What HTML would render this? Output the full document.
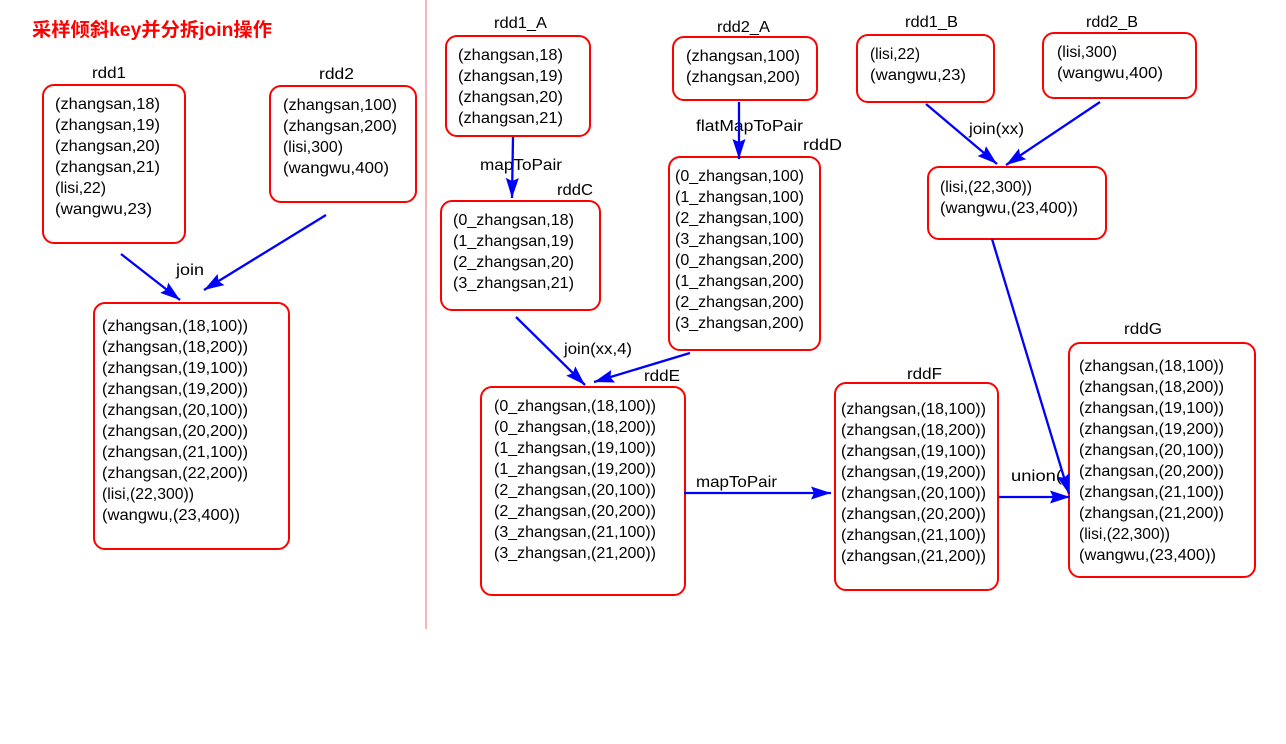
<!DOCTYPE html>
<html><head><meta charset="utf-8"><style>
html,body{margin:0;padding:0;background:#fff;width:1286px;height:744px;overflow:hidden}
svg{display:block}
text{font-family:"Liberation Sans","Noto Sans CJK SC",sans-serif;font-size:16px;fill:#000}
rect{fill:#fff;stroke:#f00;stroke-width:2}
line.a{stroke:#00f;stroke-width:2.3;marker-end:url(#h)}
</style></head><body>
<svg width="1286" height="744" viewBox="0 0 1286 744" xmlns="http://www.w3.org/2000/svg">
<defs><marker id="h" markerUnits="userSpaceOnUse" markerWidth="24" markerHeight="16" refX="20" refY="8" orient="auto"><path d="M0,1.5 L20,8 L0,14.5 L3,8 Z" fill="#00f"/></marker></defs>
<line x1="426" y1="0" x2="426" y2="629" stroke="#f26a6a" stroke-width="1"/>
<text x="32" y="36" style="font-size:19px;font-weight:bold;fill:#f00" textLength="240" lengthAdjust="spacingAndGlyphs">采样倾斜key并分拆join操作</text>

<rect x="43" y="85" width="142" height="158" rx="11"/>
<rect x="270" y="86" width="146" height="116" rx="11"/>
<rect x="94" y="303" width="195" height="246" rx="11"/>
<rect x="446" y="36" width="144" height="100" rx="11"/>
<rect x="441" y="201" width="159" height="109" rx="11"/>
<rect x="673" y="37" width="144" height="63" rx="11"/>
<rect x="669" y="157" width="151" height="193" rx="11"/>
<rect x="481" y="387" width="204" height="208" rx="11"/>
<rect x="835" y="383" width="163" height="207" rx="11"/>
<rect x="1069" y="343" width="186" height="234" rx="11"/>
<rect x="857" y="35" width="137" height="67" rx="11"/>
<rect x="1043" y="33" width="153" height="65" rx="11"/>
<rect x="928" y="167" width="178" height="72" rx="11"/>

<g>
<text x="92" y="78" textLength="34" lengthAdjust="spacingAndGlyphs">rdd1</text>
<text x="319" y="79" textLength="35" lengthAdjust="spacingAndGlyphs">rdd2</text>
<text x="176" y="275" textLength="28" lengthAdjust="spacingAndGlyphs">join</text>
<text x="494" y="28" textLength="53" lengthAdjust="spacingAndGlyphs">rdd1_A</text>
<text x="717" y="32" textLength="53" lengthAdjust="spacingAndGlyphs">rdd2_A</text>
<text x="905" y="27" textLength="53" lengthAdjust="spacingAndGlyphs">rdd1_B</text>
<text x="1086" y="27" textLength="52" lengthAdjust="spacingAndGlyphs">rdd2_B</text>
<text x="969" y="134" textLength="55" lengthAdjust="spacingAndGlyphs">join(xx)</text>
<text x="480" y="170" textLength="82" lengthAdjust="spacingAndGlyphs">mapToPair</text>
<text x="557" y="195" textLength="36" lengthAdjust="spacingAndGlyphs">rddC</text>
<text x="696" y="131" textLength="107" lengthAdjust="spacingAndGlyphs">flatMapToPair</text>
<text x="803" y="150" textLength="39" lengthAdjust="spacingAndGlyphs">rddD</text>
<text x="564" y="354" textLength="68" lengthAdjust="spacingAndGlyphs">join(xx,4)</text>
<text x="644" y="381" textLength="36" lengthAdjust="spacingAndGlyphs">rddE</text>
<text x="696" y="487" textLength="81" lengthAdjust="spacingAndGlyphs">mapToPair</text>
<text x="907" y="379" textLength="35" lengthAdjust="spacingAndGlyphs">rddF</text>
<text x="1011" y="481" textLength="51" lengthAdjust="spacingAndGlyphs">union(</text>
<text x="1124" y="334" textLength="38" lengthAdjust="spacingAndGlyphs">rddG</text>

<text x="55" y="109" textLength="105" lengthAdjust="spacingAndGlyphs">(zhangsan,18)</text>
<text x="55" y="130" textLength="105" lengthAdjust="spacingAndGlyphs">(zhangsan,19)</text>
<text x="55" y="151" textLength="105" lengthAdjust="spacingAndGlyphs">(zhangsan,20)</text>
<text x="55" y="172" textLength="105" lengthAdjust="spacingAndGlyphs">(zhangsan,21)</text>
<text x="55" y="193" textLength="51" lengthAdjust="spacingAndGlyphs">(lisi,22)</text>
<text x="55" y="214" textLength="97" lengthAdjust="spacingAndGlyphs">(wangwu,23)</text>

<text x="283" y="110" textLength="114" lengthAdjust="spacingAndGlyphs">(zhangsan,100)</text>
<text x="283" y="131" textLength="114" lengthAdjust="spacingAndGlyphs">(zhangsan,200)</text>
<text x="283" y="152" textLength="60" lengthAdjust="spacingAndGlyphs">(lisi,300)</text>
<text x="283" y="173" textLength="106" lengthAdjust="spacingAndGlyphs">(wangwu,400)</text>

<text x="102" y="331" textLength="146" lengthAdjust="spacingAndGlyphs">(zhangsan,(18,100))</text>
<text x="102" y="352" textLength="146" lengthAdjust="spacingAndGlyphs">(zhangsan,(18,200))</text>
<text x="102" y="373" textLength="146" lengthAdjust="spacingAndGlyphs">(zhangsan,(19,100))</text>
<text x="102" y="394" textLength="146" lengthAdjust="spacingAndGlyphs">(zhangsan,(19,200))</text>
<text x="102" y="415" textLength="146" lengthAdjust="spacingAndGlyphs">(zhangsan,(20,100))</text>
<text x="102" y="436" textLength="146" lengthAdjust="spacingAndGlyphs">(zhangsan,(20,200))</text>
<text x="102" y="457" textLength="146" lengthAdjust="spacingAndGlyphs">(zhangsan,(21,100))</text>
<text x="102" y="478" textLength="146" lengthAdjust="spacingAndGlyphs">(zhangsan,(22,200))</text>
<text x="102" y="499" textLength="92" lengthAdjust="spacingAndGlyphs">(lisi,(22,300))</text>
<text x="102" y="520" textLength="138" lengthAdjust="spacingAndGlyphs">(wangwu,(23,400))</text>

<text x="458" y="60" textLength="105" lengthAdjust="spacingAndGlyphs">(zhangsan,18)</text>
<text x="458" y="81" textLength="105" lengthAdjust="spacingAndGlyphs">(zhangsan,19)</text>
<text x="458" y="102" textLength="105" lengthAdjust="spacingAndGlyphs">(zhangsan,20)</text>
<text x="458" y="123" textLength="105" lengthAdjust="spacingAndGlyphs">(zhangsan,21)</text>

<text x="453" y="225" textLength="121" lengthAdjust="spacingAndGlyphs">(0_zhangsan,18)</text>
<text x="453" y="246" textLength="121" lengthAdjust="spacingAndGlyphs">(1_zhangsan,19)</text>
<text x="453" y="267" textLength="121" lengthAdjust="spacingAndGlyphs">(2_zhangsan,20)</text>
<text x="453" y="288" textLength="121" lengthAdjust="spacingAndGlyphs">(3_zhangsan,21)</text>

<text x="686" y="61" textLength="114" lengthAdjust="spacingAndGlyphs">(zhangsan,100)</text>
<text x="686" y="82" textLength="114" lengthAdjust="spacingAndGlyphs">(zhangsan,200)</text>

<text x="675" y="181" textLength="129" lengthAdjust="spacingAndGlyphs">(0_zhangsan,100)</text>
<text x="675" y="202" textLength="129" lengthAdjust="spacingAndGlyphs">(1_zhangsan,100)</text>
<text x="675" y="223" textLength="129" lengthAdjust="spacingAndGlyphs">(2_zhangsan,100)</text>
<text x="675" y="244" textLength="129" lengthAdjust="spacingAndGlyphs">(3_zhangsan,100)</text>
<text x="675" y="265" textLength="129" lengthAdjust="spacingAndGlyphs">(0_zhangsan,200)</text>
<text x="675" y="286" textLength="129" lengthAdjust="spacingAndGlyphs">(1_zhangsan,200)</text>
<text x="675" y="307" textLength="129" lengthAdjust="spacingAndGlyphs">(2_zhangsan,200)</text>
<text x="675" y="328" textLength="129" lengthAdjust="spacingAndGlyphs">(3_zhangsan,200)</text>

<text x="494" y="411" textLength="162" lengthAdjust="spacingAndGlyphs">(0_zhangsan,(18,100))</text>
<text x="494" y="432" textLength="162" lengthAdjust="spacingAndGlyphs">(0_zhangsan,(18,200))</text>
<text x="494" y="453" textLength="162" lengthAdjust="spacingAndGlyphs">(1_zhangsan,(19,100))</text>
<text x="494" y="474" textLength="162" lengthAdjust="spacingAndGlyphs">(1_zhangsan,(19,200))</text>
<text x="494" y="495" textLength="162" lengthAdjust="spacingAndGlyphs">(2_zhangsan,(20,100))</text>
<text x="494" y="516" textLength="162" lengthAdjust="spacingAndGlyphs">(2_zhangsan,(20,200))</text>
<text x="494" y="537" textLength="162" lengthAdjust="spacingAndGlyphs">(3_zhangsan,(21,100))</text>
<text x="494" y="558" textLength="162" lengthAdjust="spacingAndGlyphs">(3_zhangsan,(21,200))</text>

<text x="841" y="414" textLength="145" lengthAdjust="spacingAndGlyphs">(zhangsan,(18,100))</text>
<text x="841" y="435" textLength="145" lengthAdjust="spacingAndGlyphs">(zhangsan,(18,200))</text>
<text x="841" y="456" textLength="145" lengthAdjust="spacingAndGlyphs">(zhangsan,(19,100))</text>
<text x="841" y="477" textLength="145" lengthAdjust="spacingAndGlyphs">(zhangsan,(19,200))</text>
<text x="841" y="498" textLength="145" lengthAdjust="spacingAndGlyphs">(zhangsan,(20,100))</text>
<text x="841" y="519" textLength="145" lengthAdjust="spacingAndGlyphs">(zhangsan,(20,200))</text>
<text x="841" y="540" textLength="145" lengthAdjust="spacingAndGlyphs">(zhangsan,(21,100))</text>
<text x="841" y="561" textLength="145" lengthAdjust="spacingAndGlyphs">(zhangsan,(21,200))</text>

<text x="1079" y="371" textLength="145" lengthAdjust="spacingAndGlyphs">(zhangsan,(18,100))</text>
<text x="1079" y="392" textLength="145" lengthAdjust="spacingAndGlyphs">(zhangsan,(18,200))</text>
<text x="1079" y="413" textLength="145" lengthAdjust="spacingAndGlyphs">(zhangsan,(19,100))</text>
<text x="1079" y="434" textLength="145" lengthAdjust="spacingAndGlyphs">(zhangsan,(19,200))</text>
<text x="1079" y="455" textLength="145" lengthAdjust="spacingAndGlyphs">(zhangsan,(20,100))</text>
<text x="1079" y="476" textLength="145" lengthAdjust="spacingAndGlyphs">(zhangsan,(20,200))</text>
<text x="1079" y="497" textLength="145" lengthAdjust="spacingAndGlyphs">(zhangsan,(21,100))</text>
<text x="1079" y="518" textLength="145" lengthAdjust="spacingAndGlyphs">(zhangsan,(21,200))</text>
<text x="1079" y="539" textLength="91" lengthAdjust="spacingAndGlyphs">(lisi,(22,300))</text>
<text x="1079" y="560" textLength="137" lengthAdjust="spacingAndGlyphs">(wangwu,(23,400))</text>

<text x="870" y="59" textLength="50" lengthAdjust="spacingAndGlyphs">(lisi,22)</text>
<text x="870" y="80" textLength="96" lengthAdjust="spacingAndGlyphs">(wangwu,23)</text>
<text x="1057" y="57" textLength="60" lengthAdjust="spacingAndGlyphs">(lisi,300)</text>
<text x="1057" y="78" textLength="106" lengthAdjust="spacingAndGlyphs">(wangwu,400)</text>
<text x="940" y="192" textLength="92" lengthAdjust="spacingAndGlyphs">(lisi,(22,300))</text>
<text x="940" y="213" textLength="138" lengthAdjust="spacingAndGlyphs">(wangwu,(23,400))</text>
</g>

<line class="a" x1="121" y1="254" x2="180" y2="300"/>
<line class="a" x1="326" y1="215" x2="204" y2="290"/>
<line class="a" x1="513" y1="137" x2="512" y2="198"/>
<line class="a" x1="739" y1="102" x2="739" y2="159"/>
<line class="a" x1="516" y1="317" x2="585" y2="385"/>
<line class="a" x1="690" y1="353" x2="594" y2="382"/>
<line class="a" x1="684" y1="493" x2="831" y2="493"/>
<line class="a" x1="999" y1="497" x2="1070" y2="497"/>
<line class="a" x1="926" y1="104" x2="997" y2="164"/>
<line class="a" x1="1100" y1="102" x2="1006" y2="165"/>
<line class="a" x1="992" y1="239" x2="1069" y2="494"/>
</svg>
</body></html>
